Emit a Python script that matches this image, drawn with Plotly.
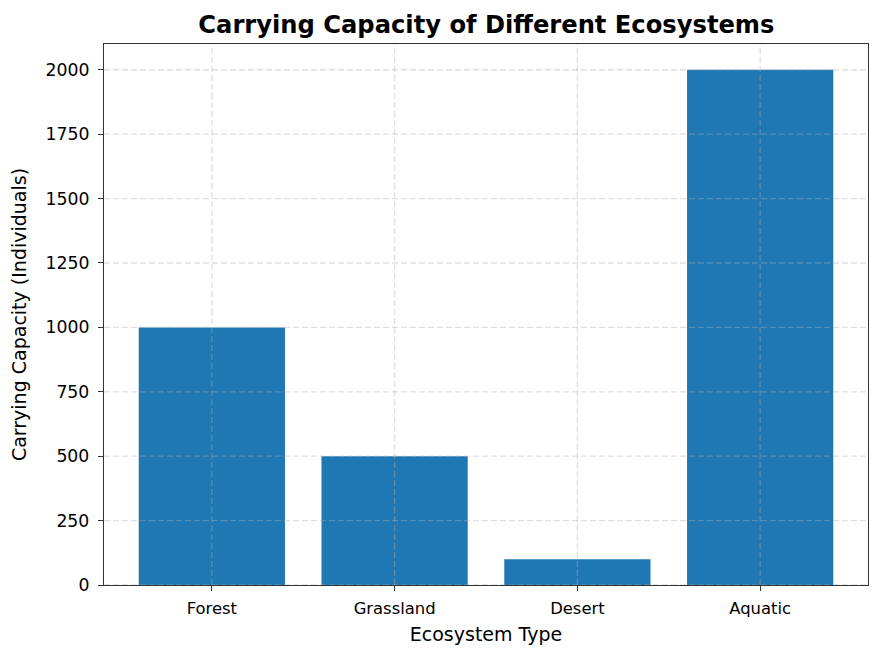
import plotly.graph_objects as go

categories = ["Forest", "Grassland", "Desert", "Aquatic"]
capacity = [1000, 500, 100, 2000]
y_ticks = [0, 250, 500, 750, 1000, 1250, 1500, 1750, 2000]

FONT = "DejaVu Sans"
AX = "#333333"
GRID = "rgba(176,176,176,0.4)"

fig = go.Figure(go.Bar(x=categories, y=capacity, marker=dict(color="#1f77b4", line=dict(width=0))))

shapes = []
for c in categories:
    shapes.append(dict(type="line", xref="x", yref="paper", x0=c, x1=c, y0=0, y1=1,
                       line=dict(color=GRID, width=1.3, dash="6px,3px"), layer="above"))
for t in y_ticks:
    shapes.append(dict(type="line", xref="paper", yref="y", x0=0, x1=1, y0=t, y1=t,
                       line=dict(color=GRID, width=1.3, dash="6px,3px"), layer="above"))

fig.update_layout(
    width=882, height=657,
    margin=dict(l=104, r=14, t=44, b=72),
    paper_bgcolor="white", plot_bgcolor="white",
    bargap=0.2,
    showlegend=False,
    shapes=shapes,
    font=dict(family=FONT, color="black"),
    title=dict(text="<b>Carrying Capacity of Different Ecosystems</b>", x=0.5515, xanchor="center",
               y=1 - 25 / 657, yanchor="middle", font=dict(size=24.2, family=FONT, color="black")),
    xaxis=dict(
        range=[-0.59, 3.59], showgrid=False, showline=True, mirror=True,
        linecolor=AX, linewidth=1.3, ticks="outside", ticklen=5, tickwidth=1.3, tickcolor=AX,
        tickfont=dict(size=16.4, family=FONT, color="black"), ticklabelstandoff=3,
        title=dict(text="Ecosystem Type", font=dict(size=19, family=FONT, color="black"), standoff=10),
        zeroline=False,
    ),
    yaxis=dict(
        range=[0, 2100], showgrid=False, showline=True, mirror=True,
        linecolor=AX, linewidth=1.3, ticks="outside", ticklen=5, tickwidth=1.3, tickcolor=AX,
        tickvals=y_ticks, tickfont=dict(size=17.3, family=FONT, color="black"), ticklabelstandoff=5,
        title=dict(text="Carrying Capacity (Individuals)", font=dict(size=19, family=FONT, color="black"), standoff=13),
        zeroline=False,
    ),
)

fig.write_html("out.html")
